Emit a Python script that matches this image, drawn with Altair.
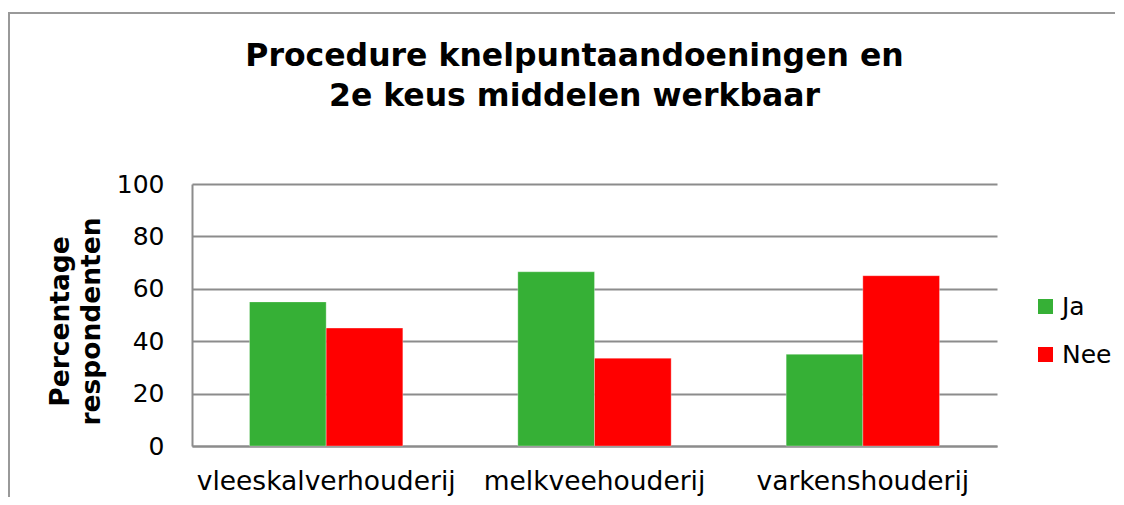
import altair as alt
import pandas as pd

categories = ["vleeskalverhouderij", "melkveehouderij", "varkenshouderij"]
series = ["Ja", "Nee"]
ja_values = [55.0, 66.5, 35.0]
nee_values = [45.0, 33.5, 65.0]
y_ticks = [0, 20, 40, 60, 80, 100]
colors = ["#36b036", "#ff0000"]

rows = []
for c, j, n in zip(categories, ja_values, nee_values):
    rows.append({"sector": c, "antwoord": "Ja", "pct": j})
    rows.append({"sector": c, "antwoord": "Nee", "pct": n})
df = pd.DataFrame(rows)

FONT = "DejaVu Sans"
GRID = "#8c8c8c"

bars = alt.Chart(df).mark_bar(stroke="#ffffff", strokeWidth=0.6, strokeOpacity=0.5).encode(
    x=alt.X("sector:N", sort=categories,
            scale=alt.Scale(paddingInner=0, paddingOuter=0),
            axis=alt.Axis(title=None, labelAngle=0, labelFont=FONT, labelFontSize=26.5,
                          labelColor="#000000", labelPadding=22, ticks=False, labelLimit=0,
                          domainColor=GRID, domainWidth=2)),
    xOffset=alt.XOffset("antwoord:N", sort=series,
                        scale=alt.Scale(paddingInner=0, paddingOuter=0.75)),
    y=alt.Y("pct:Q", scale=alt.Scale(domain=[0, 100]),
            axis=alt.Axis(title=["Percentage", "respondenten"], values=y_ticks,
                          titleFont=FONT, titleFontSize=26.5, titleFontWeight="bold",
                          titleColor="#000000", titleLineHeight=31,
                          titleX=-118, titleY=137, titleAngle=-90,
                          labelFont=FONT, labelFontSize=25, labelColor="#000000",
                          labelPadding=28, ticks=False,
                          domainColor=GRID, domainWidth=2,
                          grid=True, gridColor=GRID, gridWidth=2)),
    color=alt.Color("antwoord:N", sort=series,
                    scale=alt.Scale(domain=series, range=colors),
                    legend=alt.Legend(title=None, orient="none", legendX=841, legendY=110,
                                      symbolType="square", symbolSize=225,
                                      symbolStrokeWidth=0,
                                      labelFont=FONT, labelFontSize=25, labelColor="#000000",
                                      rowPadding=22, labelOffset=4)),
)

frame = alt.Chart(alt.Data(values=[{"f": 1}])).mark_rect(
    fill=None, stroke="#999999", strokeWidth=2
).encode(
    x=alt.value(-183), x2=alt.value(1100),
    y=alt.value(-171), y2=alt.value(400),
)

chart = alt.layer(frame, bars).properties(
    width=805,
    height=262,
    title=alt.TitleParams(
        text=["Procedure knelpuntaandoeningen en", "2e keus middelen werkbaar"],
        font=FONT, fontSize=31.5, fontWeight="bold", color="#000000",
        anchor="middle", frame="group", dx=-20, offset=0, dy=100, lineHeight=40,
    ),
    autosize=alt.AutoSizeParams(type="none"),
    padding={"left": 184, "top": 176, "right": 118, "bottom": 51},
).configure(background="#ffffff").configure_view(stroke=None)

chart.save("out.html", embed_options={"renderer": "svg", "actions": False})
